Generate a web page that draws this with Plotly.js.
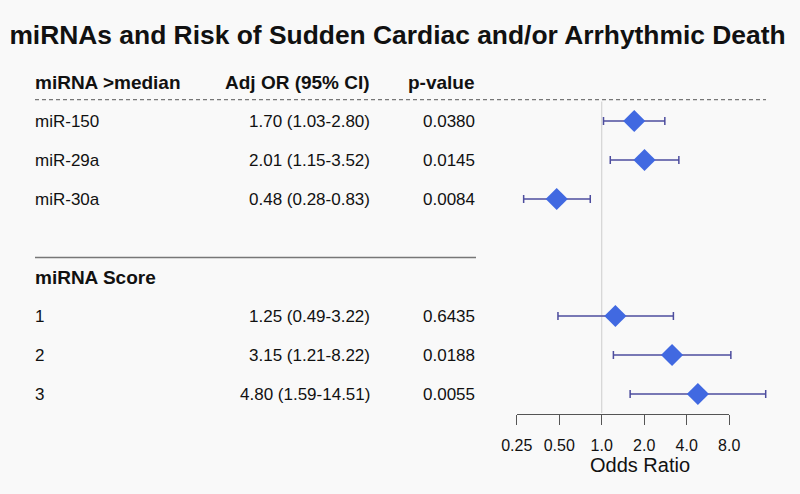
<!DOCTYPE html>
<html>
<head>
<meta charset="utf-8">
<script src="https://cdn.plot.ly/plotly-3.0.1.min.js"></script>
<style>html,body{margin:0;padding:0;background:#f9f9f9;}#chart{width:800px;height:494px;}</style>
</head>
<body>
<div id="chart"></div>
<script>
// ---- data ----
const groupLabels = ["miRNA >median", "miRNA Score"];
const headers = ["miRNA >median", "Adj OR (95% CI)", "p-value"];
const labels = ["miR-150", "miR-29a", "miR-30a", "1", "2", "3"];
const rowIndex = [0, 1, 2, 5, 6, 7];
const orValues = [1.70, 2.01, 0.48, 1.25, 3.15, 4.80];
const ciLow = [1.03, 1.15, 0.28, 0.49, 1.21, 1.59];
const ciHigh = [2.80, 3.52, 0.83, 3.22, 8.22, 14.51];
const pValues = ["0.0380", "0.0145", "0.0084", "0.6435", "0.0188", "0.0055"];
const tickVals = [0.25, 0.5, 1, 2, 4, 8];
const tickText = ["0.25", "0.50", "1.0", "2.0", "4.0", "8.0"];
const xTitle = "Odds Ratio";

// ---- layout helpers ----
const W = 800, H = 494;
const FONT = "Liberation Sans, Arial, Helvetica, sans-serif";
const px0 = 516.7, pxPerLog = 141.18; // pixel of 0.25 and pixels per log10 unit
const l025 = Math.log10(0.25);
const xRange = [l025 - px0 / pxPerLog, l025 + (W - px0) / pxPerLog];
const rowTop = 121, rowStep = 39;
const yRange = [(H - rowTop) / rowStep, -rowTop / rowStep];

const fmtCI = (o, l, h) => o.toFixed(2) + " (" + l.toFixed(2) + "-" + h.toFixed(2) + ")";

const annotations = [];
function addText(text, xpx, row, anchor, size, bold) {
  annotations.push({
    text: bold ? "<b>" + text + "</b>" : text,
    xref: "paper", yref: "y", x: xpx / W, y: row,
    xanchor: anchor, yanchor: "middle", showarrow: false, borderpad: 0,
    font: {family: FONT, size: size, color: "#111"}
  });
}
addText(headers[0], 34, -1, "left", 19, true);
addText(headers[1], 371, -1, "right", 19, true);
addText(headers[2], 476, -1, "right", 19, true);
addText(groupLabels[1], 34, 4, "left", 19, true);
labels.forEach((lab, i) => {
  addText(lab, 34, rowIndex[i], "left", 17, false);
  addText(fmtCI(orValues[i], ciLow[i], ciHigh[i]), 371, rowIndex[i], "right", 17, false);
  addText(pValues[i], 476, rowIndex[i], "right", 17, false);
});
annotations.push({
  text: xTitle, xref: "paper", yref: "paper", x: 640 / W, y: 1 - 465 / H,
  xanchor: "center", yanchor: "middle", showarrow: false, borderpad: 0,
  font: {family: FONT, size: 20, color: "#111"}
});

const traces = [
  { // reference line at OR = 1
    x: [1, 1], y: [-0.5, 7.49], mode: "lines", xaxis: "x", yaxis: "y",
    line: {color: "#d4d4d4", width: 1.2}, hoverinfo: "skip", showlegend: false
  },
  {
    x: orValues, y: rowIndex, mode: "markers", type: "scatter", xaxis: "x", yaxis: "y",
    marker: {symbol: "diamond", size: 17, color: "#4169e1", line: {width: 0}},
    error_x: {
      type: "data", symmetric: false,
      array: ciHigh.map((h, i) => h - orValues[i]),
      arrayminus: ciLow.map((l, i) => orValues[i] - l),
      color: "#4d4d9e", thickness: 1.5, width: 4
    },
    cliponaxis: false, showlegend: false, hoverinfo: "x"
  },
  { // carrier for the tick axis
    x: [1], y: [null], xaxis: "x2", yaxis: "y", mode: "markers",
    showlegend: false, hoverinfo: "skip"
  }
];

const layout = {
  width: W, height: H,
  margin: {l: 0, r: 0, t: 0, b: 0},
  paper_bgcolor: "#f9f9f9", plot_bgcolor: "rgba(0,0,0,0)",
  title: {
    text: "<b>miRNAs and Risk of Sudden Cardiac and/or Arrhythmic Death</b>",
    x: 397.5 / W, xanchor: "center", y: 1 - 35 / H, yanchor: "middle",
    font: {family: FONT, size: 26.4, color: "#111"}
  },
  xaxis: {type: "log", range: xRange, domain: [0, 1], visible: false, fixedrange: true},
  xaxis2: {
    type: "log", range: [l025, Math.log10(8)],
    domain: [px0 / W, (px0 + 5 * Math.log10(2) * pxPerLog) / W],
    anchor: "free", position: 1 - 414 / H,
    showline: true, linecolor: "#555", linewidth: 1.3,
    ticks: "outside", ticklen: 10, tickwidth: 1.3, tickcolor: "#555",
    tickvals: tickVals, ticktext: tickText, showgrid: false, zeroline: false,
    ticklabelstandoff: 6,
    tickfont: {family: FONT, size: 16, color: "#111"},
    fixedrange: true
  },
  yaxis: {range: yRange, domain: [0, 1], visible: false, fixedrange: true},
  shapes: [
    {type: "line", xref: "paper", yref: "y", x0: 35 / W, x1: 766 / W, y0: -0.55, y1: -0.55,
     line: {color: "#777", width: 1.3, dash: "4px,3px"}},
    {type: "line", xref: "paper", yref: "y", x0: 35 / W, x1: 476 / W, y0: 3.5, y1: 3.5,
     line: {color: "#777", width: 1.3}}
  ],
  annotations: annotations
};

Plotly.newPlot("chart", traces, layout, {displayModeBar: false, staticPlot: true});
</script>
</body>
</html>
